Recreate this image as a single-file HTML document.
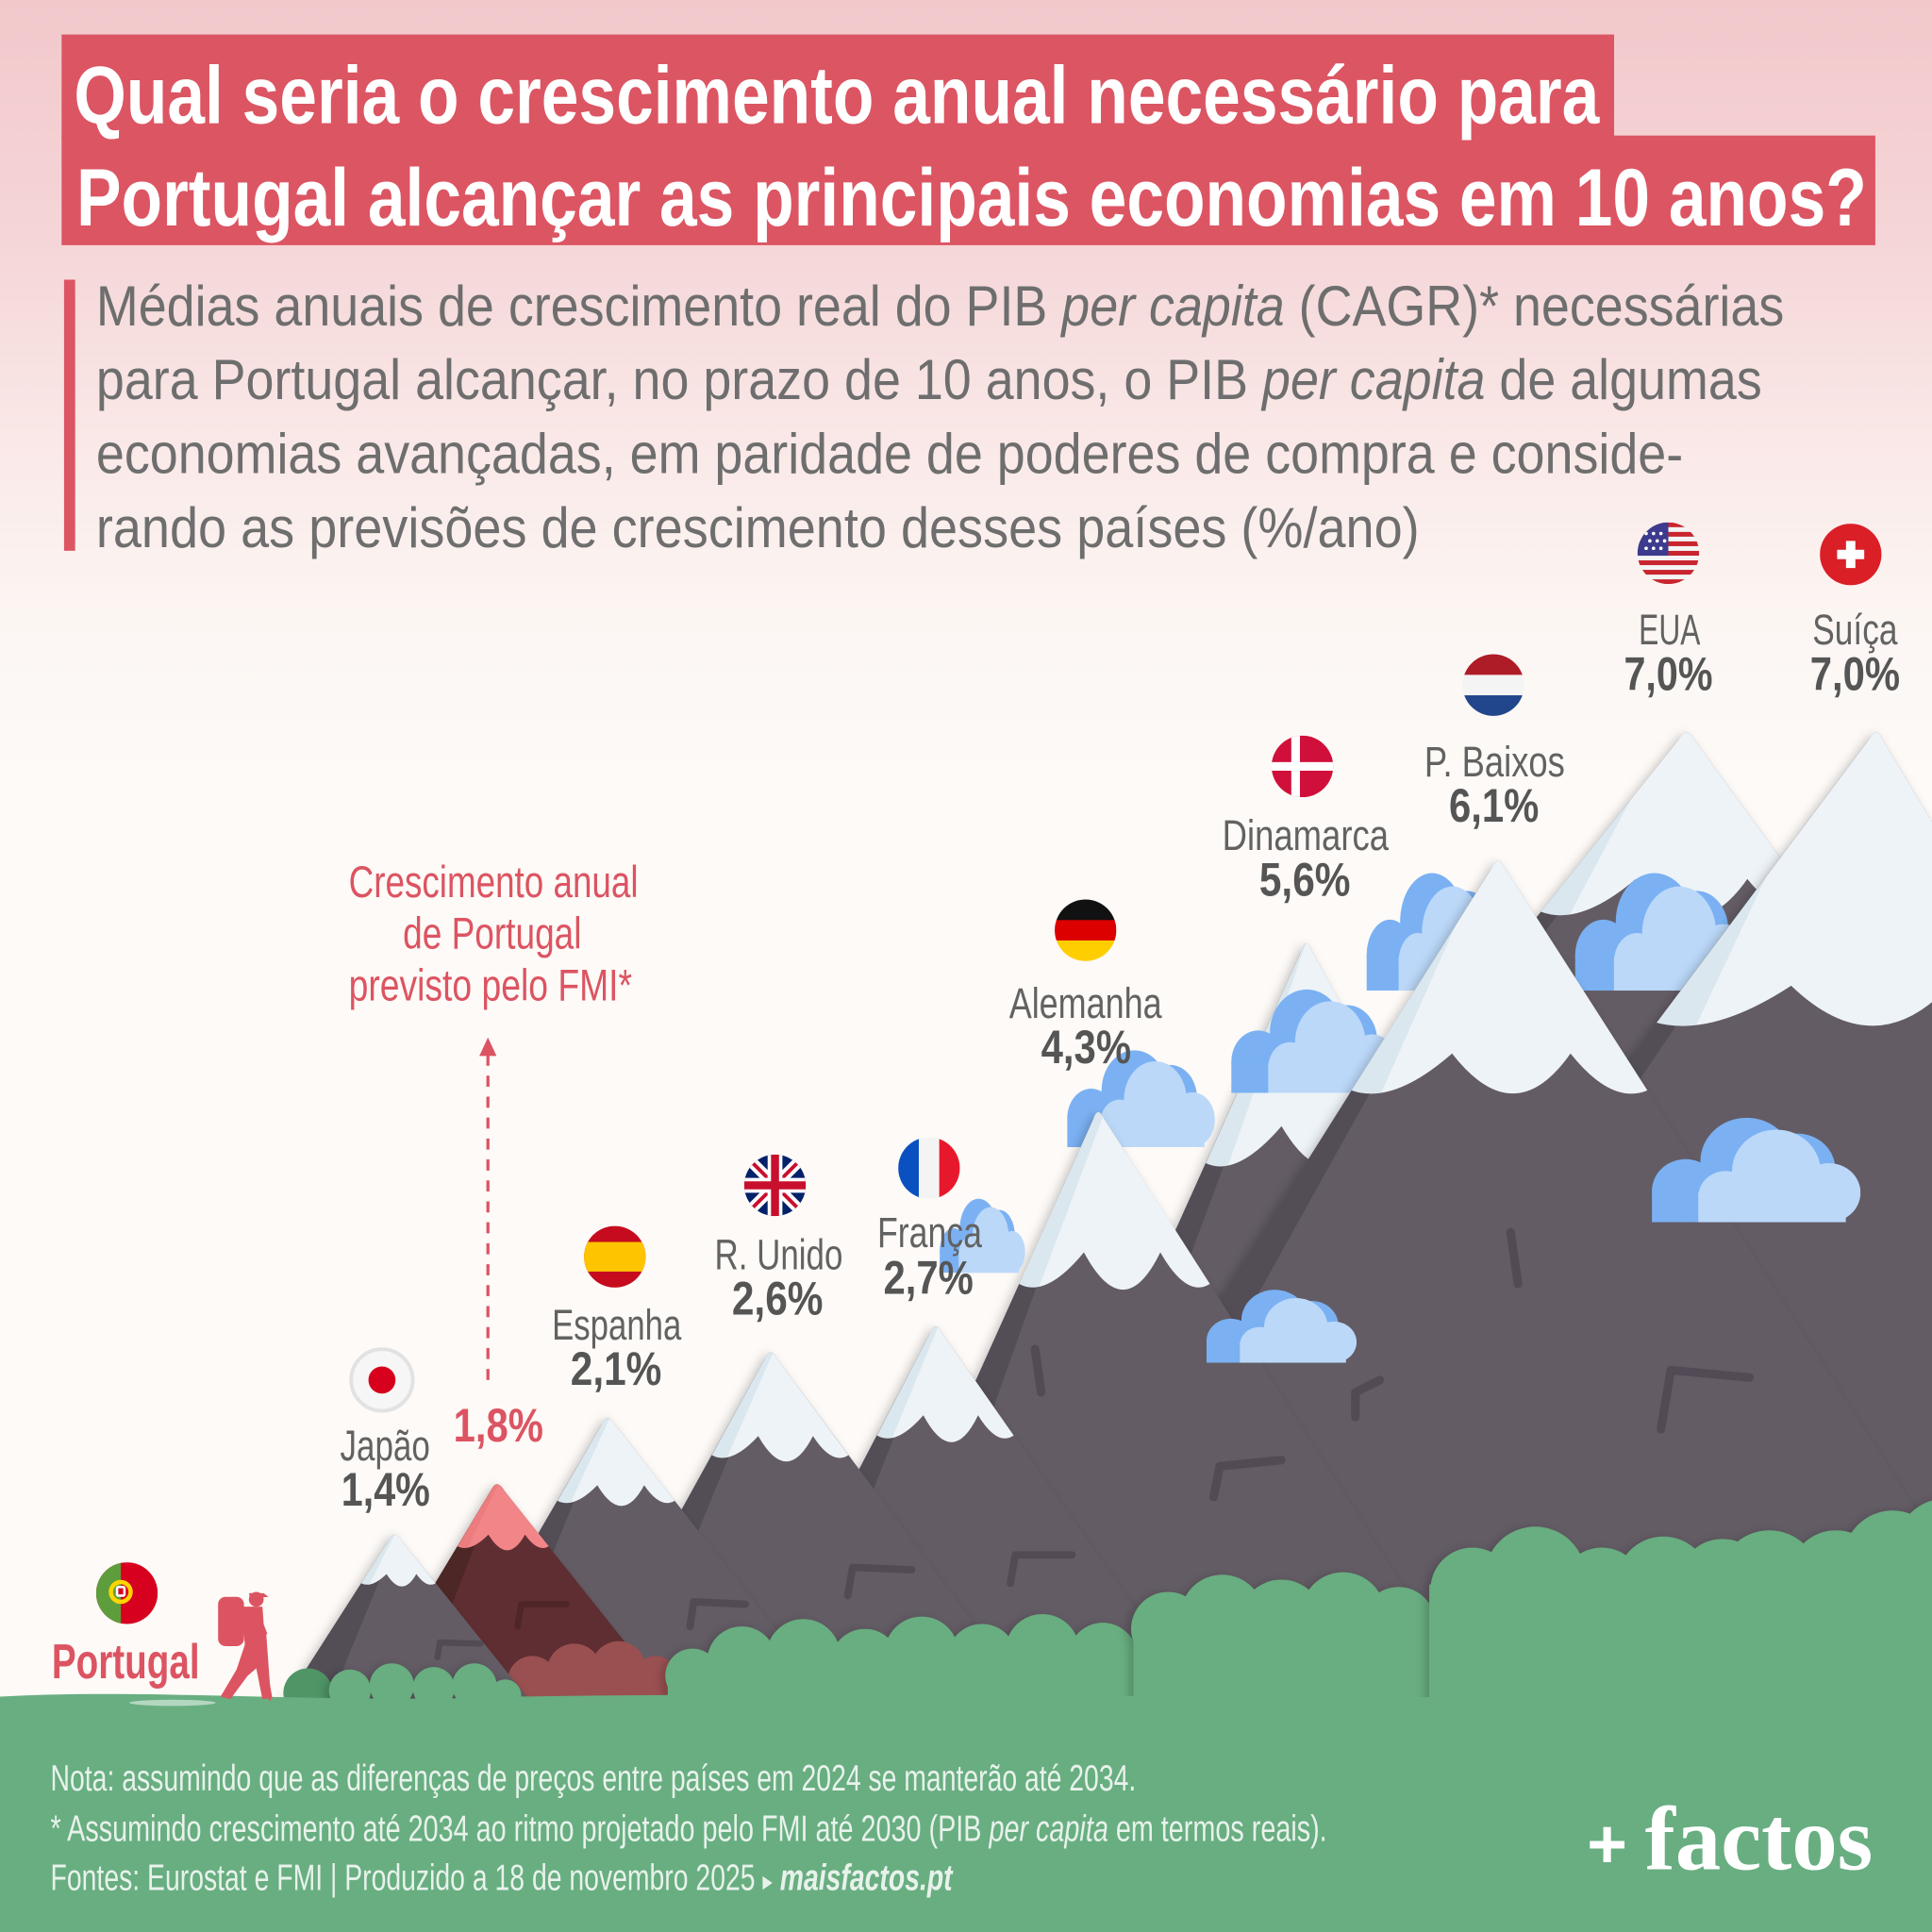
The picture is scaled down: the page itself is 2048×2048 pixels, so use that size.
<!DOCTYPE html>
<html><head><meta charset="utf-8"><style>
html,body{margin:0;padding:0;width:2048px;height:2048px;overflow:hidden;background:#fdfaf7}
svg{display:block}
</style></head><body>
<svg xmlns="http://www.w3.org/2000/svg" width="2048" height="2048" viewBox="0 0 1568 1568">
<defs>
<linearGradient id="bg" x1="0" y1="0" x2="0" y2="1">
<stop offset="0" stop-color="#f2c8cb"/>
<stop offset="0.12" stop-color="#f5d5d7"/>
<stop offset="0.22" stop-color="#f9e7e6"/>
<stop offset="0.32" stop-color="#fcf6f3"/>
<stop offset="0.4" stop-color="#fdfaf7"/>
<stop offset="1" stop-color="#fdfaf7"/>
</linearGradient>
<linearGradient id="sn" x1="0" y1="0" x2="1" y2="0.35">
<stop offset="0" stop-color="#dbe7ee"/><stop offset="0.4" stop-color="#dbe7ee"/>
<stop offset="0.4" stop-color="#eef3f7"/><stop offset="1" stop-color="#eef3f7"/>
</linearGradient>
<linearGradient id="pk" x1="0" y1="0" x2="1" y2="0.35">
<stop offset="0" stop-color="#ec7b7e"/><stop offset="0.4" stop-color="#ec7b7e"/>
<stop offset="0.4" stop-color="#f28587"/><stop offset="1" stop-color="#f28587"/>
</linearGradient>
<filter id="sh" x="-20%" y="-20%" width="140%" height="140%">
<feDropShadow dx="-3" dy="2" stdDeviation="4" flood-color="#000" flood-opacity="0.22"/>
</filter>
<symbol id="cl" viewBox="0 0 100 60" preserveAspectRatio="none">
<g fill="#7bb1f3">
<circle cx="17" cy="44" r="16"/><circle cx="46" cy="29" r="22"/><circle cx="70" cy="33" r="18"/>
<rect x="1" y="44" width="88" height="16"/>
</g>
<g fill="#bbd8f9">
<circle cx="36" cy="47" r="13"/><circle cx="60" cy="34" r="21"/><circle cx="85" cy="45" r="15"/>
<rect x="23" y="45" width="70" height="15"/>
</g>
</symbol>
<clipPath id="fc"><circle cx="0" cy="0" r="25"/></clipPath>
</defs>

<rect x="0" y="0" width="1568" height="1568" fill="url(#bg)"/>

<!-- Title -->
<rect x="50" y="28" width="1260" height="84" fill="#dc5563"/>
<rect x="50" y="110" width="1472" height="89" fill="#dc5563"/>
<g font-family="'Liberation Sans Narrow','Liberation Sans',sans-serif" font-weight="bold" fill="#ffffff" font-size="66">
<text x="60" y="100" textLength="1238" lengthAdjust="spacingAndGlyphs">Qual seria o crescimento anual necessário para</text>
<text x="62" y="183" textLength="1453" lengthAdjust="spacingAndGlyphs">Portugal alcançar as principais economias em 10 anos?</text>
</g>

<!-- Subtitle -->
<rect x="52" y="227" width="9" height="220" fill="#dc5563"/>
<g font-family="'Liberation Sans Narrow','Liberation Sans',sans-serif" fill="#6e6e6e" font-size="46">
<text x="78" y="264" textLength="1370" lengthAdjust="spacingAndGlyphs">Médias anuais de crescimento real do PIB <tspan font-style="italic">per capita</tspan> (CAGR)* necessárias</text>
<text x="78" y="324" textLength="1352" lengthAdjust="spacingAndGlyphs">para Portugal alcançar, no prazo de 10 anos, o PIB <tspan font-style="italic">per capita</tspan> de algumas</text>
<text x="78" y="384" textLength="1288" lengthAdjust="spacingAndGlyphs">economias avançadas, em paridade de poderes de compra e conside-</text>
<text x="78" y="444" textLength="1074" lengthAdjust="spacingAndGlyphs">rando as previsões de crescimento desses países (%/ano)</text>
</g>

<!-- Mountains back to front -->
<!-- USA -->
<g filter="url(#sh)">
<path d="M735,1385 L1362.6,600 Q1369,589 1374.8,600 L1948,1385 Z" fill="#635c65"/>
<path d="M1362.6,600 L735,1385 L790,1385 L1266,740 Z" fill="#534d56"/>
<path d="M1250.6,740 L1362.6,600 Q1369,589 1374.8,600 L1477,740 Q1449.8,752 1418.1,713.4 Q1375.1,775 1327.6,713.4 Q1282.3,752 1250.6,740 Z" fill="url(#sn)"/>
</g>
<use href="#cl" x="1277" y="696" width="143" height="108"/>
<!-- Swiss -->
<g filter="url(#sh)">
<path d="M928,1385 L1517,600 Q1523,589 1527.8,600 L1999,1385 Z" fill="#635c65"/>
<path d="M1517,600 L928,1385 L985,1385 L1362,830 Z" fill="#534d56"/>
<path d="M1344.5,830 L1517,600 Q1523,589 1527.8,600 L1665.8,830 Q1627.2,842 1582.3,800 Q1521.2,865 1453.7,800 Q1389.5,842 1344.5,830 Z" fill="url(#sn)"/>
</g>
<!-- Denmark -->
<g filter="url(#sh)">
<path d="M780,1385 L1056.4,771 Q1060,760 1064.4,771 L1402,1385 Z" fill="#635c65"/>
<path d="M1056.4,771 L780,1385 L830,1385 L994,944 Z" fill="#534d56"/>
<path d="M978.6,944 L1056.4,771 Q1060,760 1064.4,771 L1159.6,944 Q1137.9,956 1112.5,914 Q1078.2,979 1040.1,914 Q1003.9,956 978.6,944 Z" fill="url(#sn)"/>
</g>
<use href="#cl" x="1108" y="696" width="118" height="108"/>
<use href="#cl" x="998" y="792" width="136" height="95"/>
<!-- Netherlands -->
<g filter="url(#sh)">
<path d="M782,1385 L1211,704 Q1216,693 1221.1,704 L1657,1385 Z" fill="#635c65"/>
<path d="M1211,704 L782,1385 L835,1385 L1113,885 Z" fill="#534d56"/>
<path d="M1096.9,885 L1211,704 Q1216,693 1221.1,704 L1337,885 Q1308.2,897 1274.6,855 Q1229,920 1178.5,855 Q1130.5,897 1096.9,885 Z" fill="url(#sn)"/>
</g>
<g stroke="#524b55" stroke-width="7" fill="none" stroke-linecap="round" stroke-linejoin="round">
<path d="M1348,1160 L1356,1112 L1420,1118"/>
<path d="M1226,1000 L1232,1042"/>
<path d="M1120,1120 L1100,1130 L1100,1150"/>
</g>
<use href="#cl" x="1339" y="896" width="171" height="96"/>
<use href="#cl" x="865" y="842" width="121" height="89"/>
<!-- Germany -->
<g filter="url(#sh)">
<path d="M673,1385 L887.4,908 Q891,897 896.1,908 L1201,1385 Z" fill="#635c65"/>
<path d="M887.4,908 L673,1385 L720,1385 L842,1042 Z" fill="#534d56"/>
<path d="M827.1,1042 L887.4,908 Q891,897 896.1,908 L981.9,1042 Q963.3,1054 941.7,1016.4 Q912.2,1077 879.7,1016.4 Q848.8,1054 827.1,1042 Z" fill="url(#sn)"/>
</g>
<g stroke="#524b55" stroke-width="7" fill="none" stroke-linecap="round" stroke-linejoin="round">
<path d="M985,1215 L990,1190 L1040,1185"/>
<path d="M840,1095 L845,1130"/>
</g>
<use href="#cl" x="978" y="1039" width="123" height="67"/>
<use href="#cl" x="762" y="965" width="70" height="68"/>
<!-- France -->
<g filter="url(#sh)">
<path d="M597,1385 L754.8,1082 Q759,1071 764.6,1082 L977,1385 Z" fill="#635c65"/>
<path d="M754.8,1082 L597,1385 L640,1385 L726,1165 Z" fill="#534d56"/>
<path d="M711.7,1165 L754.8,1082 Q759,1071 764.6,1082 L822.7,1165 Q809.4,1174.1 793.8,1148.6 Q772.8,1192.3 749.4,1148.6 Q727.2,1174.1 711.7,1165 Z" fill="url(#sn)"/>
</g>
<g stroke="#524b55" stroke-width="6" fill="none" stroke-linecap="round" stroke-linejoin="round">
<path d="M820,1285 L824,1262 L870,1262"/>
</g>
<!-- UK -->
<g filter="url(#sh)">
<path d="M465,1385 L620.6,1103 Q625,1092 630.9,1103 L840,1385 Z" fill="#635c65"/>
<path d="M620.6,1103 L465,1385 L508,1385 L592,1181 Z" fill="#534d56"/>
<path d="M577.7,1181 L620.6,1103 Q625,1092 630.9,1103 L688.6,1181 Q675.3,1189.6 659.8,1165.5 Q638.7,1206.8 615.4,1165.5 Q593.2,1189.6 577.7,1181 Z" fill="url(#sn)"/>
</g>
<g stroke="#524b55" stroke-width="6" fill="none" stroke-linecap="round" stroke-linejoin="round">
<path d="M688,1295 L692,1272 L740,1274"/>
</g>
<!-- Spain -->
<g filter="url(#sh)">
<path d="M355,1385 L488.4,1156 Q493,1145 499.2,1156 L678,1385 Z" fill="#635c65"/>
<path d="M488.4,1156 L355,1385 L398,1385 L466,1218 Z" fill="#534d56"/>
<path d="M452.4,1218 L488.4,1156 Q493,1145 499.2,1156 L547.6,1218 Q536.2,1225 522.8,1205.4 Q504.8,1239 484.8,1205.4 Q465.7,1225 452.4,1218 Z" fill="url(#sn)"/>
</g>
<g stroke="#524b55" stroke-width="6" fill="none" stroke-linecap="round" stroke-linejoin="round">
<path d="M560,1320 L563,1300 L605,1302"/>
</g>
<!-- Portugal red -->
<g filter="url(#sh)">
<path d="M293,1385 L398.2,1210 Q403,1199 409.4,1210 L549,1385 Z" fill="#5f2e31"/>
<path d="M398.2,1210 L293,1385 L335,1385 L385,1255 Z" fill="#4e2528"/>
<path d="M371.2,1255 L398.2,1210 Q403,1199 409.4,1210 L445.4,1255 Q436.5,1260.3 426.1,1245.5 Q412,1270.9 396.4,1245.5 Q381.6,1260.3 371.2,1255 Z" fill="url(#pk)"/>
</g>
<g stroke="#4e2528" stroke-width="5" fill="none" stroke-linecap="round" stroke-linejoin="round">
<path d="M420,1320 L423,1302 L460,1302"/>
</g>
<g fill="#9a5051">
<circle cx="432" cy="1364" r="20"/><circle cx="466" cy="1356" r="22"/><circle cx="502" cy="1354" r="22"/><circle cx="532" cy="1362" r="18"/>
<rect x="415" y="1360" width="135" height="25"/>
</g>
<!-- Japan -->
<g filter="url(#sh)">
<path d="M229,1385 L314.9,1251 Q320,1240 326.4,1251 L434,1385 Z" fill="#635c65"/>
<path d="M314.9,1251 L229,1385 L266,1385 L307,1285 Z" fill="#534d56"/>
<path d="M293.1,1285 L314.9,1251 Q320,1240 326.4,1251 L353.6,1285 Q346.3,1289.2 337.9,1277.4 Q326.4,1297.6 313.7,1277.4 Q301.6,1289.2 293.1,1285 Z" fill="url(#sn)"/>
</g>
<g stroke="#524b55" stroke-width="5" fill="none" stroke-linecap="round" stroke-linejoin="round">
<path d="M355,1345 L357,1333 L390,1334"/>
</g>

<!-- Bushes -->
<g fill="#4f9566">
<circle cx="250" cy="1374" r="20"/>
</g>
<g fill="#68ae80" filter="url(#sh)">
<circle cx="284" cy="1372" r="17"/><circle cx="318" cy="1368" r="18"/><circle cx="352" cy="1370" r="17"/><circle cx="385" cy="1368" r="18"/><circle cx="410" cy="1376" r="13"/>
</g>
<g fill="#68ae80" filter="url(#sh)">
<circle cx="562" cy="1360" r="22"/><circle cx="602" cy="1348" r="28"/><circle cx="652" cy="1344" r="30"/><circle cx="702" cy="1350" r="28"/><circle cx="748" cy="1342" r="30"/><circle cx="797" cy="1346" r="28"/><circle cx="846" cy="1340" r="30"/><circle cx="895" cy="1345" r="28"/><circle cx="925" cy="1355" r="20"/>
<rect x="542" y="1355" width="400" height="30"/>
</g>
<g fill="#68ae80" filter="url(#sh)">
<circle cx="948" cy="1322" r="30"/><circle cx="992" cy="1312" r="34"/><circle cx="1040" cy="1316" r="34"/><circle cx="1090" cy="1310" r="34"/><circle cx="1135" cy="1318" r="30"/>
<rect x="920" y="1318" width="250" height="67"/>
</g>
<g fill="#68ae80" filter="url(#sh)">
<circle cx="1195" cy="1290" r="34"/><circle cx="1246" cy="1280" r="41"/><circle cx="1300" cy="1290" r="34"/><circle cx="1350" cy="1285" r="38"/><circle cx="1398" cy="1285" r="36"/><circle cx="1436" cy="1283" r="41"/><circle cx="1490" cy="1280" r="38"/><circle cx="1536" cy="1266" r="40"/><circle cx="1580" cy="1258" r="42"/>
<rect x="1160" y="1286" width="408" height="99"/>
</g>

<!-- Ground -->
<path d="M0,1377 C120,1370 260,1383 420,1377 C700,1372 1100,1381 1568,1376 L1568,1568 L0,1568 Z" fill="#68ae81"/>
<ellipse cx="140" cy="1382" rx="35" ry="2.5" fill="#ffffff" opacity="0.5"/>

<!-- Arrow -->
<line x1="396" y1="1120" x2="396" y2="856" stroke="#dc5462" stroke-width="2.5" stroke-dasharray="9 8"/>
<polygon points="396,842 389,857 403,857" fill="#dc5462"/>

<!-- Hiker -->
<g fill="#dc5462">
<circle cx="208" cy="1298" r="6"/>
<path d="M202,1293 L214,1293 L218,1296 L203,1297 Z"/>
<rect x="177" y="1296" width="21" height="40" rx="6"/>
<path d="M196,1304 L213,1304 L215,1332 L199,1338 Z"/>
<path d="M199,1334 L215,1330 L217,1355 L221,1378 L213,1379 L208,1354 L201,1360 L187,1379 L179,1377 L192,1355 Z"/>
<path d="M210,1308 L217,1326 L213,1328 L207,1312 Z"/>
</g>
<line x1="215" y1="1325" x2="219" y2="1380" stroke="#dc5462" stroke-width="2"/>

<!-- Red annotation -->
<g font-family="'Liberation Sans Narrow','Liberation Sans',sans-serif" fill="#dc5462" font-size="36">
<text x="283" y="728" textLength="235" lengthAdjust="spacingAndGlyphs">Crescimento anual</text>
<text x="327" y="770" textLength="145" lengthAdjust="spacingAndGlyphs">de Portugal</text>
<text x="283" y="812" textLength="230" lengthAdjust="spacingAndGlyphs">previsto pelo FMI*</text>
</g>

<!-- Labels -->
<g font-family="'Liberation Sans Narrow','Liberation Sans',sans-serif" fill="#626262" font-size="35">
<text x="276" y="1185" textLength="73" lengthAdjust="spacingAndGlyphs">Japão</text>
<text x="448" y="1087" textLength="105" lengthAdjust="spacingAndGlyphs">Espanha</text>
<text x="580" y="1030" textLength="104" lengthAdjust="spacingAndGlyphs">R. Unido</text>
<text x="712" y="1012" textLength="85" lengthAdjust="spacingAndGlyphs">França</text>
<text x="819" y="826" textLength="124" lengthAdjust="spacingAndGlyphs">Alemanha</text>
<text x="992" y="690" textLength="135" lengthAdjust="spacingAndGlyphs">Dinamarca</text>
<text x="1156" y="630" textLength="114" lengthAdjust="spacingAndGlyphs">P. Baixos</text>
<text x="1330" y="523" textLength="50" lengthAdjust="spacingAndGlyphs">EUA</text>
<text x="1471" y="523" textLength="69" lengthAdjust="spacingAndGlyphs">Suíça</text>
</g>
<g font-family="'Liberation Sans Narrow','Liberation Sans',sans-serif" fill="#555555" font-size="38" font-weight="bold">
<text x="277" y="1222" textLength="72" lengthAdjust="spacingAndGlyphs">1,4%</text>
<text x="463" y="1124" textLength="74" lengthAdjust="spacingAndGlyphs">2,1%</text>
<text x="594" y="1067" textLength="74" lengthAdjust="spacingAndGlyphs">2,6%</text>
<text x="717" y="1050" textLength="73" lengthAdjust="spacingAndGlyphs">2,7%</text>
<text x="845" y="863" textLength="73" lengthAdjust="spacingAndGlyphs">4,3%</text>
<text x="1022" y="727" textLength="74" lengthAdjust="spacingAndGlyphs">5,6%</text>
<text x="1176" y="667" textLength="73" lengthAdjust="spacingAndGlyphs">6,1%</text>
<text x="1318" y="560" textLength="72" lengthAdjust="spacingAndGlyphs">7,0%</text>
<text x="1469" y="560" textLength="73" lengthAdjust="spacingAndGlyphs">7,0%</text>
<text x="368" y="1170" textLength="73" lengthAdjust="spacingAndGlyphs" fill="#dc5462">1,8%</text>
<text x="42" y="1362" textLength="120" lengthAdjust="spacingAndGlyphs" fill="#dc5462" font-size="40">Portugal</text>
</g>

<!-- Flags -->
<g transform="translate(103,1293)"><g clip-path="url(#fc)">
<rect x="-25" y="-25" width="50" height="50" fill="#d8001f"/>
<rect x="-25" y="-25" width="20" height="50" fill="#5e9d3c"/>
<circle cx="-5" cy="-1" r="8" fill="none" stroke="#ffd500" stroke-width="3.5"/>
<rect x="-9" y="-6" width="8" height="9" rx="2" fill="#ffffff"/>
<rect x="-7" y="-4" width="4" height="5" fill="#d8001f"/>
</g></g>
<g transform="translate(310,1120)">
<circle r="25" fill="#f6f6f6" stroke="#e2e2e2" stroke-width="3"/>
<circle r="11" fill="#d7001d"/>
</g>
<g transform="translate(499,1020)"><g clip-path="url(#fc)">
<rect x="-25" y="-25" width="50" height="50" fill="#c60b1e"/>
<rect x="-25" y="-12" width="50" height="24" fill="#ffc400"/>
</g></g>
<g transform="translate(629,962)"><g clip-path="url(#fc)">
<rect x="-25" y="-25" width="50" height="50" fill="#012169"/>
<path d="M-25,-25 L25,25 M25,-25 L-25,25" stroke="#ffffff" stroke-width="9"/>
<path d="M-25,-25 L25,25 M25,-25 L-25,25" stroke="#c8102e" stroke-width="3"/>
<path d="M0,-25 V25 M-25,0 H25" stroke="#ffffff" stroke-width="12"/>
<path d="M0,-25 V25 M-25,0 H25" stroke="#c8102e" stroke-width="6.5"/>
</g></g>
<g transform="translate(754,948)"><g clip-path="url(#fc)">
<rect x="-25" y="-25" width="17" height="50" fill="#0a50c0"/>
<rect x="-8.3" y="-25" width="16.6" height="50" fill="#f4f4f4"/>
<rect x="8.3" y="-25" width="17" height="50" fill="#e8182c"/>
</g></g>
<g transform="translate(881,755)"><g clip-path="url(#fc)">
<rect x="-25" y="-25" width="50" height="17" fill="#111111"/>
<rect x="-25" y="-8.3" width="50" height="16.6" fill="#dd0000"/>
<rect x="-25" y="8.3" width="50" height="17" fill="#ffce00"/>
</g></g>
<g transform="translate(1057,622)"><g clip-path="url(#fc)">
<rect x="-25" y="-25" width="50" height="50" fill="#d0103a"/>
<rect x="-9" y="-25" width="7" height="50" fill="#ffffff"/>
<rect x="-25" y="-3.5" width="50" height="7" fill="#ffffff"/>
</g></g>
<g transform="translate(1212,556)"><g clip-path="url(#fc)">
<rect x="-25" y="-25" width="50" height="17" fill="#ae1c28"/>
<rect x="-25" y="-8.3" width="50" height="16.6" fill="#f4f4f4"/>
<rect x="-25" y="8.3" width="50" height="17" fill="#21468b"/>
</g></g>
<g transform="translate(1354,449)"><g clip-path="url(#fc)">
<rect x="-25" y="-25" width="50" height="50" fill="#f4f4f4"/>
<g fill="#c9252e">
<rect x="-25" y="-25" width="50" height="3.85"/><rect x="-25" y="-17.3" width="50" height="3.85"/><rect x="-25" y="-9.6" width="50" height="3.85"/><rect x="-25" y="-1.9" width="50" height="3.85"/><rect x="-25" y="5.8" width="50" height="3.85"/><rect x="-25" y="13.5" width="50" height="3.85"/><rect x="-25" y="21.2" width="50" height="3.85"/>
</g>
<rect x="-25" y="-25" width="25" height="27" fill="#3c3b8e"/>
<g fill="#ffffff">
<circle cx="-18" cy="-16" r="1.4"/><circle cx="-12" cy="-16" r="1.4"/><circle cx="-6" cy="-16" r="1.4"/>
<circle cx="-15" cy="-10" r="1.4"/><circle cx="-9" cy="-10" r="1.4"/><circle cx="-3" cy="-10" r="1.4"/>
<circle cx="-18" cy="-4" r="1.4"/><circle cx="-12" cy="-4" r="1.4"/><circle cx="-6" cy="-4" r="1.4"/>
</g>
</g></g>
<g transform="translate(1502,450)"><g clip-path="url(#fc)">
<rect x="-25" y="-25" width="50" height="50" fill="#da1f26"/>
<rect x="-3.8" y="-11" width="7.6" height="22" fill="#ffffff"/>
<rect x="-11" y="-3.8" width="22" height="7.6" fill="#ffffff"/>
</g></g>

<!-- Footer -->
<g font-family="'Liberation Sans Narrow','Liberation Sans',sans-serif" fill="#e8f2eb" font-size="30">
<text x="41" y="1453" textLength="881" lengthAdjust="spacingAndGlyphs">Nota: assumindo que as diferenças de preços entre países em 2024 se manterão até 2034.</text>
<text x="41" y="1494" textLength="1036" lengthAdjust="spacingAndGlyphs">* Assumindo crescimento até 2034 ao ritmo projetado pelo FMI até 2030 (PIB <tspan font-style="italic">per capita</tspan> em termos reais).</text>
<text x="41" y="1534" textLength="732" lengthAdjust="spacingAndGlyphs">Fontes: Eurostat e FMI | Produzido a 18 de novembro 2025 <tspan font-family="'DejaVu Sans',sans-serif" font-size="22">▸</tspan> <tspan font-style="italic" font-weight="bold">maisfactos.pt</tspan></text>
</g>
<text x="1288" y="1516" font-family="'Liberation Sans',sans-serif" font-weight="bold" font-size="56" fill="#ffffff">+</text>
<text x="1335" y="1517" font-family="'Liberation Serif',serif" font-weight="bold" font-size="74" fill="#ffffff" textLength="185" lengthAdjust="spacingAndGlyphs">factos</text>
</svg>
</body></html>
